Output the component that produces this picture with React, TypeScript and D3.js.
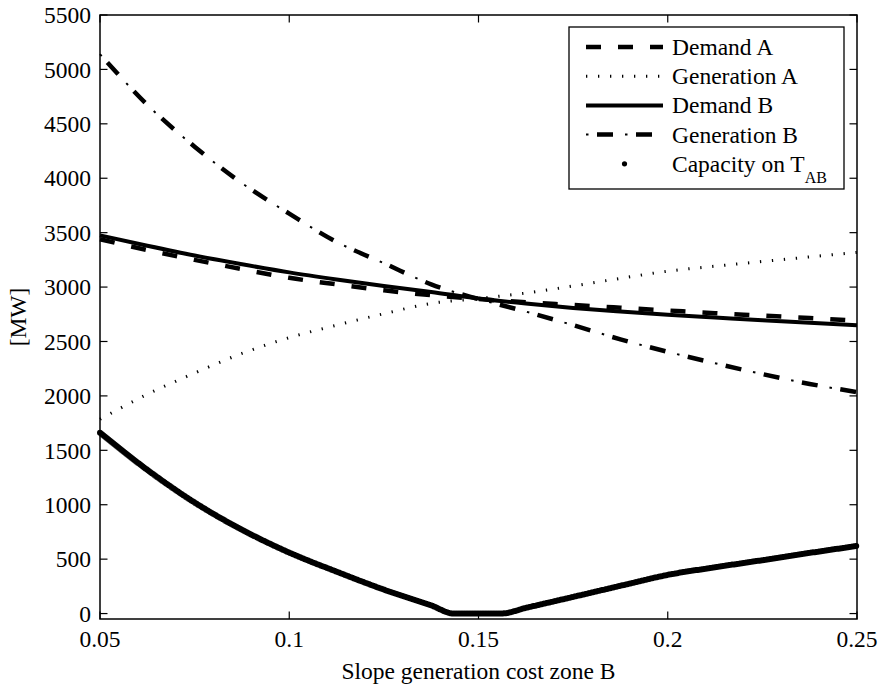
import React from 'react';
import * as d3 from 'd3';

// x grid (slope generation cost zone B)
const xGrid = [0.05, 0.0625, 0.075, 0.0875, 0.1, 0.1125, 0.125, 0.1375, 0.15, 0.1625, 0.175, 0.1875, 0.2, 0.2125, 0.225, 0.2375, 0.25];
const demandA = [3440, 3340, 3250, 3165, 3085, 3025, 2970, 2925, 2890, 2860, 2835, 2810, 2785, 2760, 2738, 2715, 2690];
const generationA = [1785, 2015, 2210, 2390, 2535, 2650, 2755, 2850, 2895, 2945, 3010, 3080, 3146, 3192, 3235, 3277, 3318];
const demandB = [3475, 3380, 3290, 3210, 3135, 3070, 3010, 2955, 2895, 2848, 2808, 2775, 2745, 2720, 2695, 2672, 2650];
const generationB = [5140, 4675, 4290, 3955, 3675, 3415, 3220, 3025, 2890, 2775, 2650, 2520, 2405, 2300, 2200, 2110, 2035];

const capX = [0.05, 0.0625, 0.075, 0.0875, 0.1, 0.1125, 0.125, 0.1375, 0.1435, 0.15, 0.156, 0.1625, 0.175, 0.1875, 0.2, 0.2125, 0.225, 0.2375, 0.25];
const capacity = [1662, 1320, 1020, 770, 560, 385, 220, 75, 0, 0, 0, 52, 153, 255, 355, 425, 490, 557, 621];

const xTicks = [0.05, 0.1, 0.15, 0.2, 0.25];
const yTicks = [0, 500, 1000, 1500, 2000, 2500, 3000, 3500, 4000, 4500, 5000, 5500];
const legendLabels = ['Demand A', 'Generation A', 'Demand B', 'Generation B', 'Capacity on T'];
const xLabel = 'Slope generation cost zone B';
const yLabel = '[MW]';

const FONT = 'Liberation Serif, Times New Roman, DejaVu Serif, serif';

export default function App() {
  const W = 881, H = 685;
  const left = 100, right = 857, top = 15, bottom = 619;
  const x = d3.scaleLinear().domain([0.05, 0.25]).range([left, right]);
  const y = d3.scaleLinear().domain([-50, 5500]).range([bottom, top]);
  const line = d3.line<[number, number]>().x(d => x(d[0])).y(d => y(d[1])).curve(d3.curveMonotoneX);
  const mk = (vals: number[], xs: number[] = xGrid) => line(xs.map((xv, i) => [xv, vals[i]] as [number, number])) || '';

  const tickLen = 7.5;
  const fs = 23.5;
  const ts: React.CSSProperties = { fontFamily: FONT, fontSize: fs };

  // legend
  const lgX0 = 569, lgY0 = 27, lgX1 = 844, lgY1 = 189;
  const sx0 = 586, sx1 = 663, tx = 672;
  const rowY = (i: number) => 47 + i * 29.2;

  return (
    <svg width={W} height={H} style={{ position: 'absolute', left: 0, top: 0, background: '#fff' }}>
      <rect x={0} y={0} width={W} height={H} fill="#fff" />
      {/* series */}
      <path d={mk(generationA)} fill="none" stroke="#000" strokeWidth={3} strokeDasharray="1.3,10.7" />
      <path d={mk(generationB)} fill="none" stroke="#000" strokeWidth={4.5} strokeDasharray="16,23" strokeDashoffset={-11} />
      <path d={mk(generationB)} fill="none" stroke="#000" strokeWidth={2} strokeDasharray="2.5,36.5" />
      <path d={mk(demandA)} fill="none" stroke="#000" strokeWidth={4.5} strokeDasharray="15,17" />
      <path d={mk(demandB)} fill="none" stroke="#000" strokeWidth={4} />
      <path d={mk(capacity, capX)} fill="none" stroke="#000" strokeWidth={6} strokeLinecap="round" strokeDasharray="0,1.6" />

      {/* axes box */}
      <rect x={left} y={top} width={right - left} height={bottom - top} fill="none" stroke="#000" strokeWidth={1.5} />
      {xTicks.map(t => (
        <g key={'x' + t}>
          <line x1={x(t)} x2={x(t)} y1={bottom} y2={bottom - tickLen} stroke="#000" strokeWidth={1.2} />
          <line x1={x(t)} x2={x(t)} y1={top} y2={top + tickLen} stroke="#000" strokeWidth={1.2} />
          <text x={x(t)} y={647} textAnchor="middle" style={ts}>{String(t)}</text>
        </g>
      ))}
      {yTicks.map(t => (
        <g key={'y' + t}>
          <line x1={left} x2={left + tickLen} y1={y(t)} y2={y(t)} stroke="#000" strokeWidth={1.2} />
          <line x1={right} x2={right - tickLen} y1={y(t)} y2={y(t)} stroke="#000" strokeWidth={1.2} />
          <text x={91} y={y(t)} dy="0.35em" textAnchor="end" style={ts}>{String(t)}</text>
        </g>
      ))}
      <text x={(left + right) / 2} y={679} textAnchor="middle" style={ts}>{xLabel}</text>
      <text transform={`translate(26,${(top + bottom) / 2}) rotate(-90)`} textAnchor="middle" style={ts}>{yLabel}</text>

      {/* legend */}
      <rect x={lgX0} y={lgY0} width={lgX1 - lgX0} height={lgY1 - lgY0} fill="#fff" stroke="#000" strokeWidth={1.3} />
      <line x1={sx0} x2={sx1} y1={rowY(0)} y2={rowY(0)} stroke="#000" strokeWidth={4.5} strokeDasharray="15,17" />
      <line x1={sx0} x2={sx1} y1={rowY(1)} y2={rowY(1)} stroke="#000" strokeWidth={3} strokeDasharray="1.3,10.7" />
      <line x1={sx0} x2={sx1} y1={rowY(2)} y2={rowY(2)} stroke="#000" strokeWidth={4} />
      <line x1={sx0} x2={sx1} y1={rowY(3)} y2={rowY(3)} stroke="#000" strokeWidth={4.5} strokeDasharray="16,23" strokeDashoffset={-11} />
      <line x1={sx0} x2={sx1} y1={rowY(3)} y2={rowY(3)} stroke="#000" strokeWidth={2} strokeDasharray="2.5,36.5" />
      <circle cx={(sx0 + sx1) / 2} cy={rowY(4)} r={2.6} fill="#000" />
      {legendLabels.map((l, i) => (
        <text key={l} x={tx} y={rowY(i) + 8} style={ts}>
          {l}
          {i === 4 ? <tspan dy={11} style={{ fontSize: 16 }}>AB</tspan> : null}
        </text>
      ))}
    </svg>
  );
}
